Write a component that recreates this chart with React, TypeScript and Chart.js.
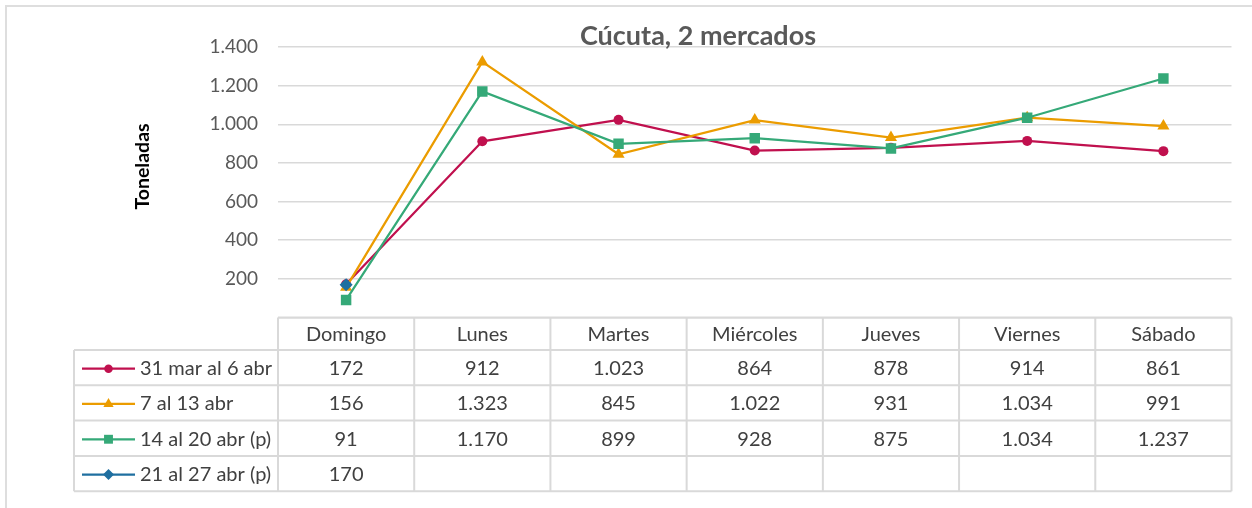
import React, { useEffect, useRef } from "react";
import { Chart, registerables } from "chart.js";

Chart.register(...registerables);

const TITLE = "Cúcuta, 2 mercados";
const Y_TITLE = "Toneladas";
const CATEGORIES = ["Domingo", "Lunes", "Martes", "Miércoles", "Jueves", "Viernes", "Sábado"];

const SERIES_NAMES = ["31 mar al 6 abr", "7 al 13 abr", "14 al 20 abr (p)", "21 al 27 abr (p)"];
const S1 = [172, 912, 1023, 864, 878, 914, 861];
const S2 = [156, 1323, 845, 1022, 931, 1034, 991];
const S3 = [91, 1170, 899, 928, 875, 1034, 1237];
const S4: (number | null)[] = [170, null, null, null, null, null, null];

const Y_MIN = 0;
const Y_MAX = 1400;
const Y_STEP = 200;

const COLORS = ["#C0104E", "#EB9C00", "#35A978", "#1F6FA0"];
const STYLES = ["circle", "triangle", "rect", "rectRot"];
const RADII = [5, 7, 7.4, 6.5];

const FONT = "Lato, 'Open Sans', sans-serif";
const GRID = "#d9d9d9";

function fmt(n: number): string {
  return String(Math.round(n)).replace(/\B(?=(\d{3})+(?!\d))/g, ".");
}

function drawMarker(ctx: CanvasRenderingContext2D, style: string, x: number, y: number, r: number, color: string) {
  ctx.save();
  ctx.fillStyle = color;
  ctx.beginPath();
  if (style === "circle") {
    ctx.arc(x, y, r, 0, Math.PI * 2);
  } else if (style === "triangle") {
    for (let k = 0; k < 3; k++) {
      const a = (k * 2 * Math.PI) / 3;
      const px = x + Math.sin(a) * r;
      const py = y - Math.cos(a) * r;
      if (k === 0) ctx.moveTo(px, py);
      else ctx.lineTo(px, py);
    }
    ctx.closePath();
  } else if (style === "rect") {
    const s = Math.SQRT1_2 * r;
    ctx.rect(x - s, y - s, 2 * s, 2 * s);
  } else {
    ctx.moveTo(x, y - r);
    ctx.lineTo(x + r, y);
    ctx.lineTo(x, y + r);
    ctx.lineTo(x - r, y);
    ctx.closePath();
  }
  ctx.fill();
  ctx.restore();
}

const SERIES = [S1, S2, S3, S4];

const tablePlugin = {
  id: "excelTable",
  afterDraw(chart: any) {
    const ctx: CanvasRenderingContext2D = chart.ctx;
    const area = chart.chartArea;
    const xs = chart.scales.x;
    const n = CATEGORIES.length;
    const colW = (area.right - area.left) / n;
    const top = area.bottom;
    const headerBottom = top + 32.5;
    const rowH = 35.3;
    const legendLeft = 74;
    const rows = SERIES.length;
    const tableBottom = headerBottom + rows * rowH;

    ctx.save();
    // outer chart border
    ctx.strokeStyle = "#dedede";
    ctx.lineWidth = 2;
    ctx.beginPath();
    ctx.moveTo(6, 520);
    ctx.lineTo(6, 6);
    ctx.lineTo(1260, 6);
    ctx.stroke();

    // title
    ctx.fillStyle = "#595959";
    ctx.font = `bold 27px ${FONT}`;
    ctx.textAlign = "center";
    ctx.textBaseline = "alphabetic";
    ctx.fillText(TITLE, 698, 45);

    // y title
    ctx.save();
    ctx.translate(149, 166.5);
    ctx.rotate(-Math.PI / 2);
    ctx.fillStyle = "#000000";
    ctx.font = `bold 19.5px ${FONT}`;
    ctx.textAlign = "center";
    ctx.textBaseline = "alphabetic";
    ctx.fillText(Y_TITLE, 0, 0);
    ctx.restore();

    // table grid
    ctx.strokeStyle = GRID;
    ctx.lineWidth = 2;
    ctx.beginPath();
    ctx.moveTo(area.left, top);
    ctx.lineTo(area.right, top);
    for (let r = 0; r <= rows; r++) {
      const y = headerBottom + r * rowH;
      ctx.moveTo(legendLeft, y);
      ctx.lineTo(area.right, y);
    }
    ctx.moveTo(legendLeft, headerBottom);
    ctx.lineTo(legendLeft, tableBottom);
    for (let i = 0; i <= n; i++) {
      const x = area.left + i * colW;
      ctx.moveTo(x, top);
      ctx.lineTo(x, tableBottom);
    }
    ctx.stroke();

    // header text
    ctx.fillStyle = "#404040";
    ctx.font = `20px ${FONT}`;
    ctx.textAlign = "center";
    ctx.textBaseline = "middle";
    CATEGORIES.forEach((c, i) => {
      ctx.fillText(c, xs.getPixelForValue(i), (top + headerBottom) / 2 + 1);
    });

    // rows
    SERIES.forEach((s, r) => {
      const cy = headerBottom + r * rowH + rowH / 2 + 1;
      ctx.save();
      ctx.strokeStyle = COLORS[r];
      ctx.lineWidth = 2.25;
      ctx.beginPath();
      ctx.moveTo(82, cy);
      ctx.lineTo(135, cy);
      ctx.stroke();
      ctx.restore();
      drawMarker(ctx, STYLES[r], 108.5, cy, RADII[r] * 0.85, COLORS[r]);
      ctx.fillStyle = "#404040";
      ctx.textAlign = "left";
      ctx.fillText(SERIES_NAMES[r], 140, cy);
      ctx.textAlign = "center";
      s.forEach((v, i) => {
        if (v === null || v === undefined) return;
        ctx.fillText(fmt(v), xs.getPixelForValue(i), cy);
      });
    });
    ctx.restore();
  },
};

export default function App() {
  const ref = useRef<HTMLCanvasElement>(null);

  useEffect(() => {
    if (!ref.current) return;
    const datasets = SERIES.map((s, i) => ({
      label: SERIES_NAMES[i],
      data: s,
      borderColor: COLORS[i],
      backgroundColor: COLORS[i],
      borderWidth: 2.25,
      pointStyle: STYLES[i],
      pointRadius: RADII[i],
      pointBorderWidth: 0,
      pointBackgroundColor: COLORS[i],
      tension: 0,
      spanGaps: false,
      order: 4 - i,
    }));
    const chart = new Chart(ref.current, {
      type: "line",
      data: { labels: CATEGORIES, datasets },
      options: {
        responsive: false,
        animation: false,
        devicePixelRatio: 1,
        layout: { padding: { top: 47, left: 0, right: 20.5, bottom: 190.5 } },
        plugins: {
          legend: { display: false },
          title: { display: false },
          tooltip: { enabled: false },
        },
        scales: {
          x: {
            type: "category",
            display: false,
            offset: true,
          },
          y: {
            min: Y_MIN,
            max: Y_MAX,
            afterFit: (scale: any) => {
              scale.width = 278;
            },
            ticks: {
              stepSize: Y_STEP,
              padding: 20,
              color: "#595959",
              font: { family: FONT, size: 19 },
              callback: (v: any) => (Number(v) === 0 ? "" : fmt(Number(v))),
            },
            grid: {
              color: GRID,
              lineWidth: 1.5,
              drawTicks: false,
            },
            border: { display: false },
          },
        },
      },
      plugins: [tablePlugin],
    });
    return () => chart.destroy();
  }, []);

  return (
    <div style={{ position: "absolute", left: 0, top: 0, width: 1252, height: 508, background: "#ffffff" }}>
      <canvas ref={ref} width={1252} height={508} style={{ display: "block" }} />
    </div>
  );
}
